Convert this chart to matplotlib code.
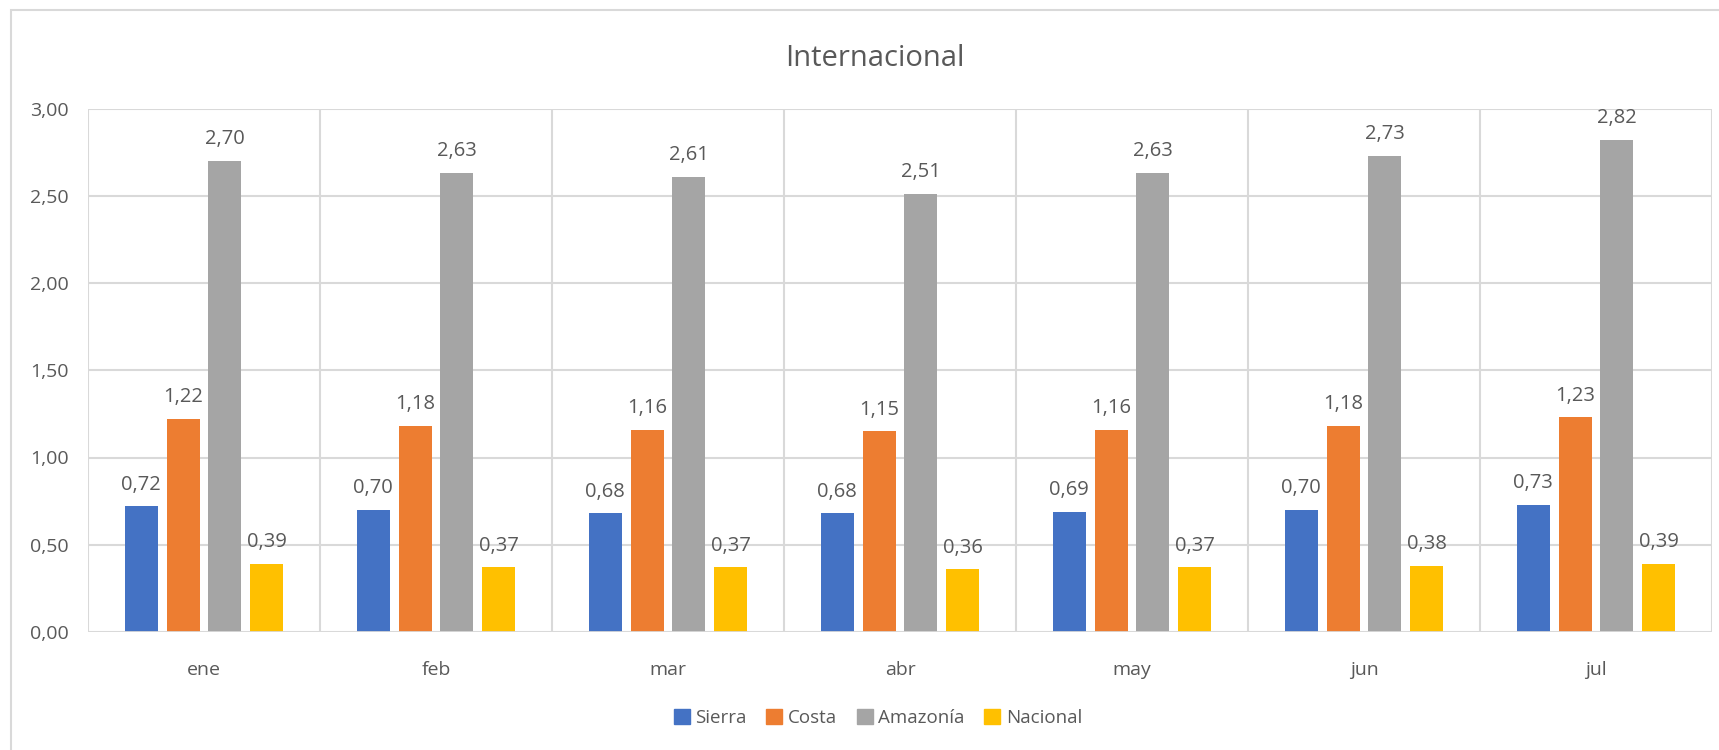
import matplotlib
matplotlib.use("Agg")
import matplotlib.pyplot as plt
from matplotlib.patches import Rectangle
import numpy as np

plt.rcParams['font.family'] = ['Open Sans', 'DejaVu Sans']

months = ["ene", "feb", "mar", "abr", "may", "jun", "jul"]
series_names = ["Sierra", "Costa", "Amazonía", "Nacional"]
sierra = [0.72, 0.70, 0.68, 0.68, 0.69, 0.70, 0.73]
costa = [1.22, 1.18, 1.16, 1.15, 1.16, 1.18, 1.23]
amazonia = [2.70, 2.63, 2.61, 2.51, 2.63, 2.73, 2.82]
nacional = [0.39, 0.37, 0.37, 0.36, 0.37, 0.38, 0.39]
colors = ["#4472C4", "#ED7D31", "#A5A5A5", "#FFC000"]
yticks = [0.0, 0.5, 1.0, 1.5, 2.0, 2.5, 3.0]

W, H = 1719, 750
fig = plt.figure(figsize=(W / 100, H / 100), dpi=100)
fig.patch.set_facecolor("white")

# chart area border
fig.add_artist(Rectangle((11 / W, -0.05), 1.1, 1 - 10 / H + 0.05, transform=fig.transFigure,
                         fill=False, edgecolor="#D9D9D9", linewidth=1.5))

left, right, top, bottom = 88, 1712, 108.5, 632
ax = fig.add_axes([left / W, 1 - bottom / H, (right - left) / W, (bottom - top) / H])

grid_c = "#D9D9D9"
text_c = "#595959"

x = np.arange(len(months))
step = 0.18
width = 0.142
all_series = [sierra, costa, amazonia, nacional]
for i, (name, vals, c) in enumerate(zip(series_names, all_series, colors)):
    pos = x + (i - 1.5) * step
    ax.bar(pos, vals, width=width, color=c, label=name, zorder=3)
    for px, v in zip(pos, vals):
        ax.annotate(f"{v:.2f}".replace(".", ","), (px, v), xytext=(0, 12),
                    textcoords="offset points", ha="center", va="baseline",
                    fontsize=14.5, color=text_c, zorder=4)

ax.set_xlim(-0.5, len(months) - 0.5)
ax.set_ylim(0, 3.0)
ax.set_yticks(yticks)
ax.set_yticklabels([f"{t:.2f}".replace(".", ",") for t in yticks])
ax.set_xticks(x)
ax.set_xticklabels(months)
ax.tick_params(axis="both", length=0, colors=text_c, labelsize=14)
ax.tick_params(axis="y", pad=14)
ax.tick_params(axis="x", pad=21)

for yv in yticks:
    ax.axhline(yv, color=grid_c, linewidth=1.5, zorder=1)
for xv in np.arange(-0.5, len(months), 1.0):
    ax.axvline(xv, color=grid_c, linewidth=1.5, zorder=1)
for s in ax.spines.values():
    s.set_visible(False)
ax.axhline(0, color=grid_c, linewidth=2, zorder=4)

fig.text(875 / W, 1 - 59 / H, "Internacional", ha="center", va="center",
         fontsize=21, color=text_c)

handles = [Rectangle((0, 0), 1, 1, color=c) for c in colors]
fig.legend(handles, series_names, loc="center", bbox_to_anchor=(878 / W, 1 - 718 / H),
           ncol=4, frameon=False, fontsize=13.5, labelcolor=text_c,
           handlelength=0.85, handleheight=0.85, handletextpad=0.3, columnspacing=1.05)

fig.savefig("out.png", dpi=100, facecolor="white")
